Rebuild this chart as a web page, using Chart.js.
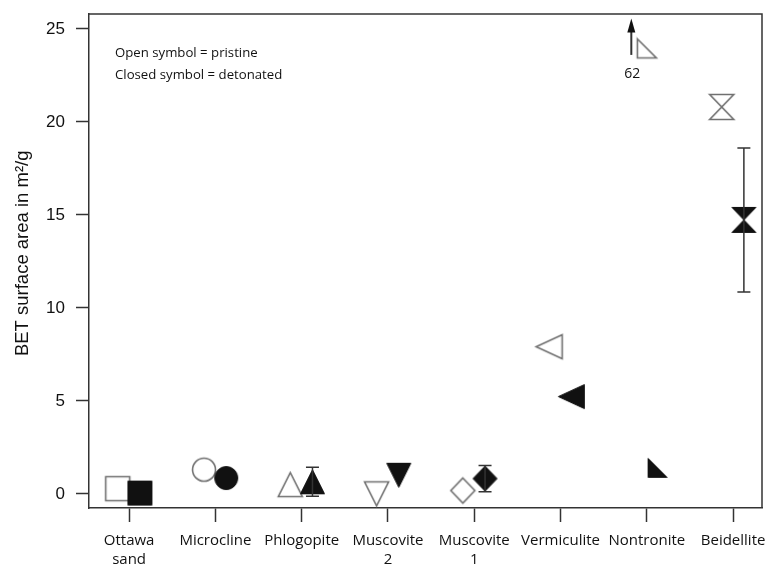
<!DOCTYPE html>
<html>
<head>
<meta charset="utf-8">
<title>BET surface area of pristine and detonated minerals</title>
<script src="https://cdn.jsdelivr.net/npm/chart.js@4.4.1/dist/chart.umd.min.js"></script>
<style>
  html, body { margin: 0; padding: 0; background: #fff; }
  #wrap { width: 779px; height: 566px; }
</style>
</head>
<body>
<div id="wrap"><canvas id="chart" width="779" height="566"></canvas></div>
<script>
// Minerals along the x axis (multi-line labels)
const categories = [
  ['Ottawa', 'sand'], ['Microcline'], ['Phlogopite'], ['Muscovite', '2'],
  ['Muscovite', '1'], ['Vermiculite'], ['Nontronite'], ['Beidellite']
];
// BET surface area, m²/g
const pristine  = [0.28, 1.30, 0.50, 0.00, 0.18, 7.91, 62, 20.80];
const detonated = [0.04, 0.85, 0.65, 1.00, 0.82, 5.23, 1.40, 14.73];
// Error half-widths for detonated samples (null = none)
const detonatedErr = [null, null, 0.78, null, 0.70, null, null, 3.87];
const yTicks = [0, 5, 10, 15, 20, 25];

// Marker shapes per mineral
const shapes = ['square', 'circle', 'up', 'down', 'diamond', 'left', 'corner', 'hourglass'];

const Y_MIN = -0.76, Y_MAX = 25.8;
const OFF_SCALE_LEVEL = 23.95;   // where off-scale values are parked under the arrow

function marker(shape, filled) {
  const dims = {
    square: [25, 25], circle: [24, 24], up: [25, 25], down: [25, 25],
    diamond: [25, 26], left: [27, 25], corner: [20, 20], hourglass: [25, 26]
  };
  const [w, h] = dims[shape];
  const pad = 2;
  const c = document.createElement('canvas');
  c.width = w + pad * 2;
  c.height = h + pad * 2;
  const g = c.getContext('2d');
  g.translate(pad, pad);
  g.beginPath();
  switch (shape) {
    case 'square': g.rect(0.5, 0.5, w - 1, h - 1); break;
    case 'circle': g.ellipse(w / 2, h / 2, w / 2 - 0.5, h / 2 - 0.5, 0, 0, Math.PI * 2); break;
    case 'up': g.moveTo(w / 2, 0.5); g.lineTo(w - 0.5, h - 0.5); g.lineTo(0.5, h - 0.5); g.closePath(); break;
    case 'down': g.moveTo(0.5, 0.5); g.lineTo(w - 0.5, 0.5); g.lineTo(w / 2, h - 0.5); g.closePath(); break;
    case 'left': g.moveTo(0.5, h / 2); g.lineTo(w - 0.5, 0.5); g.lineTo(w - 0.5, h - 0.5); g.closePath(); break;
    case 'diamond': g.moveTo(w / 2, 0.5); g.lineTo(w - 0.5, h / 2); g.lineTo(w / 2, h - 0.5); g.lineTo(0.5, h / 2); g.closePath(); break;
    case 'corner': g.moveTo(0.5, 0.5); g.lineTo(w - 0.5, h - 0.5); g.lineTo(0.5, h - 0.5); g.closePath(); break;
    case 'hourglass': g.moveTo(0.5, 0.5); g.lineTo(w - 0.5, 0.5); g.lineTo(0.5, h - 0.5); g.lineTo(w - 0.5, h - 0.5); g.closePath(); break;
  }
  if (filled) {
    g.fillStyle = '#111';
    g.fill();
    g.lineWidth = 1;
    g.strokeStyle = '#111';
    g.stroke();
  } else {
    g.fillStyle = '#fff';
    g.fill();
    g.lineWidth = 1.6;
    g.strokeStyle = '#707070';
    g.stroke();
  }
  return c;
}

const onScale = i => pristine[i] <= Y_MAX;

const detonatedData = detonated.map((v, i) => ({ x: i + 0.125, y: v }));
const pristineIdx = pristine.map((v, i) => i).filter(onScale);
const pristineData = pristineIdx.map(i => ({ x: i - 0.132, y: pristine[i] }));
const offIdx = pristine.map((v, i) => i).filter(i => !onScale(i));
const offData = offIdx.map(i => ({ x: i, y: OFF_SCALE_LEVEL, value: pristine[i] }));

// Vertical error bars on detonated samples
const errorBars = {
  id: 'errorBars',
  afterDatasetsDraw(chart) {
    const meta = chart.getDatasetMeta(0);
    const ys = chart.scales.y;
    const ctx = chart.ctx;
    ctx.save();
    ctx.strokeStyle = '#333';
    ctx.lineWidth = 1.5;
    detonatedErr.forEach((e, i) => {
      if (e == null) return;
      const px = meta.data[i].x;
      const top = ys.getPixelForValue(detonated[i] + e);
      const bot = ys.getPixelForValue(detonated[i] - e);
      ctx.beginPath();
      ctx.moveTo(px, top); ctx.lineTo(px, bot);
      ctx.moveTo(px - 6.5, top); ctx.lineTo(px + 6.5, top);
      ctx.moveTo(px - 6.5, bot); ctx.lineTo(px + 6.5, bot);
      ctx.stroke();
    });
    ctx.restore();
  }
};

// Upward arrow and value for points beyond the axis range
const offScale = {
  id: 'offScale',
  afterDatasetsDraw(chart) {
    const meta = chart.getDatasetMeta(2);
    const ctx = chart.ctx;
    ctx.save();
    meta.data.forEach((pt, k) => {
      const ax = pt.x - 15.5;
      const base = pt.y + 6.5;
      const tip = chart.chartArea.top + 4.5;
      ctx.strokeStyle = '#333';
      ctx.lineWidth = 2;
      ctx.beginPath();
      ctx.moveTo(ax, base); ctx.lineTo(ax, tip + 10);
      ctx.stroke();
      ctx.fillStyle = '#111';
      ctx.beginPath();
      ctx.moveTo(ax, tip);
      ctx.lineTo(ax + 4, tip + 14);
      ctx.lineTo(ax - 4, tip + 14);
      ctx.closePath();
      ctx.fill();
      ctx.font = '14px "Open Sans"';
      ctx.fillStyle = '#111';
      ctx.textAlign = 'center';
      ctx.textBaseline = 'middle';
      ctx.fillText(String(offData[k].value), ax + 1, pt.y + 25.5);
    });
    ctx.restore();
  }
};

// Frame around the plot and the symbol key
const frameAndKey = {
  id: 'frameAndKey',
  afterDraw(chart) {
    const { left, right, top, bottom } = chart.chartArea;
    const ctx = chart.ctx;
    ctx.save();
    ctx.strokeStyle = '#333';
    ctx.lineWidth = 1.5;
    ctx.beginPath();
    ctx.moveTo(left, top); ctx.lineTo(right, top); ctx.lineTo(right, bottom);
    ctx.stroke();
    ctx.font = '13.2px "Open Sans"';
    ctx.fillStyle = '#111';
    ctx.textAlign = 'left';
    ctx.textBaseline = 'middle';
    ctx.fillText('Open symbol = pristine', left + 26, top + 39);
    ctx.fillText('Closed symbol = detonated', left + 26, top + 61);
    ctx.restore();
  }
};

Chart.defaults.font.family = '"Liberation Sans", Arial, sans-serif';
Chart.defaults.color = '#111';

new Chart(document.getElementById('chart'), {
  type: 'scatter',
  data: {
    datasets: [
      {
        label: 'Detonated',
        data: detonatedData,
        order: 1,
        pointStyle: shapes.map(s => marker(s, true)),
        pointRadius: 12,
        pointHoverRadius: 12
      },
      {
        label: 'Pristine',
        data: pristineData,
        order: 2,
        pointStyle: pristineIdx.map(i => marker(shapes[i], false)),
        pointRadius: 12,
        pointHoverRadius: 12
      },
      {
        label: 'Pristine (off scale)',
        data: offData,
        order: 3,
        pointStyle: offIdx.map(i => marker(shapes[i], false)),
        pointRadius: 12,
        pointHoverRadius: 12
      }
    ]
  },
  options: {
    responsive: false,
    animation: false,
    devicePixelRatio: 1,
    layout: { padding: { top: 14, right: 17, left: 0, bottom: 0 } },
    plugins: {
      legend: { display: false },
      tooltip: { enabled: false }
    },
    scales: {
      x: {
        type: 'linear',
        min: -0.465,
        max: 7.335,
        afterBuildTicks: s => { s.ticks = categories.map((c, i) => ({ value: i })); },
        afterFit: s => {
          s.height = 58;
          s.paddingLeft = 0; s.paddingRight = 0;
        },
        ticks: {
          autoSkip: false,
          maxRotation: 0,
          padding: 8.5,
          color: '#111',
          font: { family: '"Open Sans", sans-serif', size: 15, lineHeight: 1.3 },
          callback: v => categories[v]
        },
        grid: { drawOnChartArea: false, tickLength: 14, tickWidth: 1.5, tickColor: '#333' },
        border: { color: '#333', width: 1.5 }
      },
      y: {
        min: Y_MIN,
        max: Y_MAX,
        afterBuildTicks: s => { s.ticks = yTicks.map(v => ({ value: v })); },
        afterFit: s => {
          s.width = 89;
          s.paddingTop = 0; s.paddingBottom = 0;
        },
        ticks: {
          padding: 11,
          color: '#111',
          font: { size: 17 }
        },
        grid: { drawOnChartArea: false, tickLength: 13, tickWidth: 1.5, tickColor: '#333' },
        border: { color: '#333', width: 1.5 },
        title: {
          display: true,
          text: '   BET surface area in m²/g',
          color: '#111',
          font: { size: 18.5 },
          padding: { top: 12, bottom: 0 }
        }
      }
    }
  },
  plugins: [errorBars, offScale, frameAndKey]
});
</script>
</body>
</html>
